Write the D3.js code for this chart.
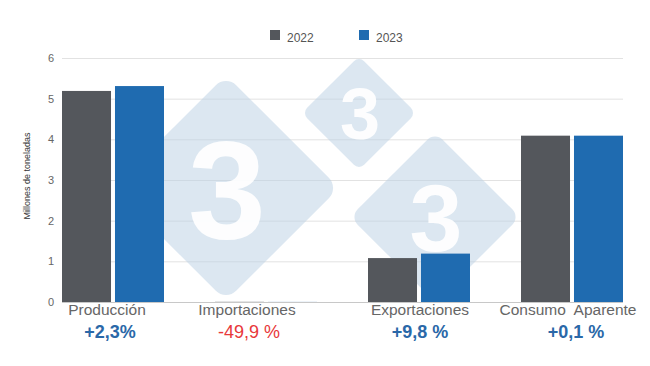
<!DOCTYPE html>
<html>
<head>
<meta charset="utf-8">
<script src="https://cdn.jsdelivr.net/npm/d3@7"></script>
<style>
  html, body { margin: 0; padding: 0; background: #fff; }
  svg { display: block; }
</style>
</head>
<body>
<svg id="chart" width="650" height="366"></svg>
<script>
// ---- data ----
const categories = ["Producción", "Importaciones", "Exportaciones", "Consumo  Aparente"];
const seriesNames = ["2022", "2023"];
const values2022 = [5.19, 0.004, 1.08, 4.09];
const values2023 = [5.31, 0.002, 1.19, 4.09];
const changeLabels = ["+2,3%", "-49,9 %", "+9,8 %", "+0,1 %"];
const changeSigns = [1, -1, 1, 1];
const yTicks = [0, 1, 2, 3, 4, 5, 6];
const yTitle = "Millones de toneladas";

// ---- layout ----
const svg = d3.select("#chart");
const colors = { "2022": "#54575c", "2023": "#1f6bb0" };
const plot = { left: 62, right: 623, top: 58, bottom: 302 };
const labelNudge = [-6, -19, 1, -4];
const pctNudge = [-3, -17, 1, 4];

const x0 = d3.scaleBand().domain(categories).range([plot.left, plot.right]).paddingInner(1/3).paddingOuter(0);
const x1 = d3.scaleBand().domain(seriesNames).range([0, x0.bandwidth()]).paddingInner(0.075);
const y = d3.scaleLinear().domain([0, 6]).range([plot.bottom, plot.top]);

// gridlines
svg.append("g").selectAll("line").data(yTicks).join("line")
  .attr("x1", plot.left).attr("x2", plot.right)
  .attr("y1", d => y(d) + 0.5).attr("y2", d => y(d) + 0.5)
  .attr("stroke", d => d === 0 ? "#c8c8c8" : "#e2e2e2").attr("stroke-width", 1);

// y tick labels
svg.append("g").selectAll("text").data(yTicks).join("text")
  .attr("x", 54).attr("y", d => y(d)).attr("dy", "0.35em")
  .attr("text-anchor", "end")
  .attr("font-family", "Liberation Sans, Arial, sans-serif")
  .attr("font-size", 11).attr("fill", "#666")
  .text(d => d);

// y title
svg.append("text")
  .attr("transform", "translate(30,176) rotate(-90)")
  .attr("text-anchor", "middle")
  .attr("font-family", "Liberation Sans, Arial, sans-serif")
  .attr("font-size", 9).attr("fill", "#333")
  .text(yTitle);

// watermark (decorative)
const wm = svg.append("g");
const marks = [
  { cx: 226, cy: 188, r: 113, fs: 140 },
  { cx: 359, cy: 113, r: 57, fs: 72 },
  { cx: 435, cy: 217, r: 85, fs: 95 }
];
marks.forEach(m => {
  const s = m.r * Math.SQRT2;
  wm.append("rect")
    .attr("x", -s / 2).attr("y", -s / 2).attr("width", s).attr("height", s)
    .attr("rx", s * 0.09)
    .attr("transform", `translate(${m.cx},${m.cy}) rotate(45)`)
    .attr("fill", "#b9d0e4").attr("fill-opacity", 0.5);
  wm.append("text")
    .attr("x", m.cx + 1).attr("y", m.cy + m.fs * 0.358)
    .attr("text-anchor", "middle")
    .attr("font-family", "Liberation Sans, Arial, sans-serif")
    .attr("font-weight", "bold").attr("font-size", m.fs)
    .attr("fill", "#fff").attr("fill-opacity", 0.92)
    .text("3");
});

// bars
const rows = categories.map((c, i) => ({ cat: c, vals: [values2022[i], values2023[i]] }));
const groups = svg.append("g").selectAll("g").data(rows).join("g")
  .attr("transform", d => `translate(${x0(d.cat)},0)`);
groups.selectAll("rect").data(d => d.vals.map((v, j) => ({ key: seriesNames[j], v })))
  .join("rect")
  .attr("x", d => x1(d.key)).attr("width", x1.bandwidth())
  .attr("y", d => y(d.v)).attr("height", d => y(0) - y(d.v))
  .attr("fill", d => colors[d.key]);

// category labels
svg.append("g").selectAll("text").data(categories).join("text")
  .attr("x", (d, i) => x0(d) + x0.bandwidth() / 2 + labelNudge[i])
  .attr("y", 315)
  .attr("text-anchor", "middle")
  .attr("font-family", "Liberation Sans Narrow, Arial Narrow, Liberation Sans, sans-serif")
  .attr("font-size", 15.5).attr("fill", "#666")
  .style("white-space", "pre")
  .text(d => d);

// change labels
svg.append("g").selectAll("text").data(changeLabels).join("text")
  .attr("x", (d, i) => x0(categories[i]) + x0.bandwidth() / 2 + pctNudge[i])
  .attr("y", 338)
  .attr("text-anchor", "middle")
  .attr("font-family", "Liberation Sans, Arial, sans-serif")
  .attr("font-weight", (d, i) => changeSigns[i] > 0 ? "bold" : "normal")
  .attr("font-size", 18)
  .attr("fill", (d, i) => changeSigns[i] > 0 ? "#2a68a8" : "#e8383a")
  .text(d => d);

// legend
const legendPos = [270, 359];
const lg = svg.append("g").selectAll("g").data(seriesNames).join("g")
  .attr("transform", (d, i) => `translate(${legendPos[i]},30)`);
lg.append("rect").attr("width", 10).attr("height", 10).attr("fill", d => colors[d]);
lg.append("text").attr("x", 17).attr("y", 11.5)
  .attr("font-family", "Liberation Sans, Arial, sans-serif")
  .attr("font-size", 12).attr("fill", "#555")
  .text(d => d);
</script>
</body>
</html>
